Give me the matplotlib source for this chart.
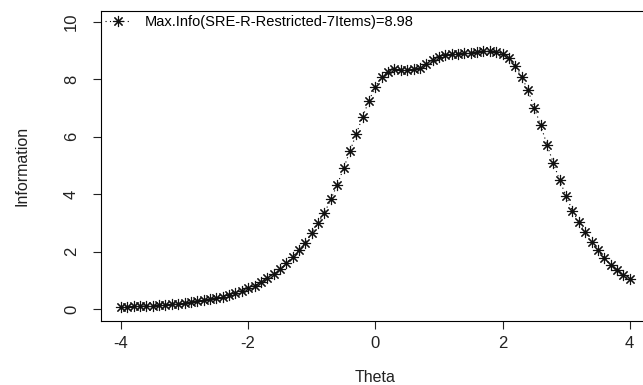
import numpy as np
import matplotlib
matplotlib.use("Agg")
from matplotlib import pyplot as plt

plt.rcParams['font.family'] = ['Liberation Sans', 'DejaVu Sans']

# Theta grid (-4 to 4, step 0.1) and information values
theta = np.linspace(-4, 4, 81)
info = [0.07, 0.08, 0.09, 0.10, 0.11, 0.12, 0.14, 0.15, 0.17, 0.19,
        0.21, 0.24, 0.27, 0.30, 0.34, 0.38, 0.43, 0.49, 0.56, 0.63,
        0.72, 0.82, 0.93, 1.07, 1.22, 1.40, 1.60, 1.82, 2.06, 2.31,
        2.64, 2.99, 3.36, 3.82, 4.33, 4.90, 5.50, 6.10, 6.70, 7.26,
        7.75, 8.08, 8.27, 8.35, 8.33, 8.33, 8.35, 8.40, 8.53, 8.68,
        8.80, 8.86, 8.88, 8.90, 8.91, 8.93, 8.96, 8.98, 8.98, 8.96,
        8.89, 8.74, 8.48, 8.10, 7.62, 7.01, 6.40, 5.72, 5.08, 4.48,
        3.93, 3.43, 3.02, 2.67, 2.33, 2.04, 1.78, 1.55, 1.37, 1.19,
        1.04]
legend_label = 'Max.Info(SRE-R-Restricted-7Items)=8.98'

fig = plt.figure(figsize=(6.43, 3.85), dpi=100)
ax = fig.add_axes([0.1565, 0.1675, 0.8545, 0.805])

ax.plot(theta, info, color='black', linestyle=(0, (1, 3)), linewidth=0.8,
        marker=(8, 2, 0), markersize=8, markeredgewidth=0.8,
        markeredgecolor='#111111', label=legend_label)

ax.set_xlim(-4.32, 4.32)
ax.set_ylim(-0.4, 10.4)
ax.set_xticks([-4, -2, 0, 2, 4])
ax.set_yticks([0, 2, 4, 6, 8, 10])
ax.set_xticklabels(['-4', '-2', '0', '2', '4'])

for s in ax.spines.values():
    s.set_linewidth(0.8)
ax.tick_params(direction='out', length=5.5, width=0.8, labelsize=12,
               colors='#222222')
ax.tick_params(axis='x', pad=6)
ax.tick_params(axis='y', pad=10)
for lab in ax.get_yticklabels():
    lab.set_rotation(90)
    lab.set_va('center')

ax.set_xlabel('Theta', fontsize=11.5, labelpad=13, color='#222222')
ax.set_ylabel('Information', fontsize=11.5, labelpad=25, color='#222222')

ax.legend(loc='upper left', frameon=False, fontsize=10.5, handlelength=1.8,
          handletextpad=0.9, borderaxespad=0.1, borderpad=0.2)

fig.savefig('out.png', dpi=100)
